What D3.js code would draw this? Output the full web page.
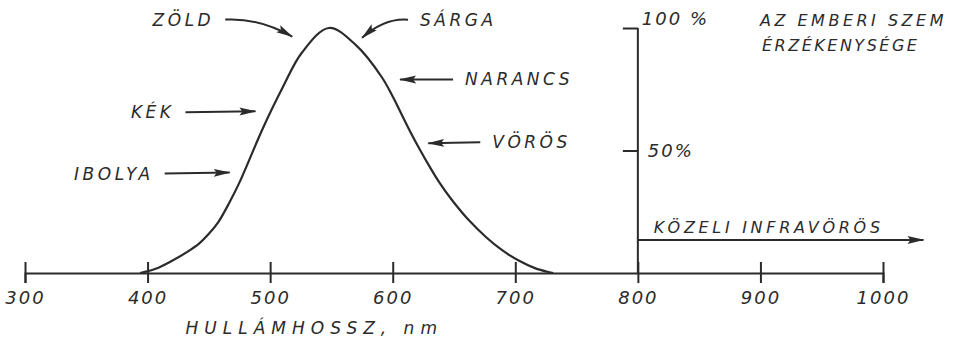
<!DOCTYPE html>
<html>
<head>
<meta charset="utf-8">
<script src="https://cdn.jsdelivr.net/npm/d3@7"></script>
<style>
  body { margin: 0; background: #fff; }
  svg { display: block; }
  text { font-family: "DejaVu Sans", sans-serif; font-style: italic; fill: #2b2b2b; }
  .lbl { font-size: 17px; letter-spacing: 3.5px; }
  .axis path, .axis line { stroke: #2b2b2b; stroke-width: 2; }
  .axis text { font-size: 18px; letter-spacing: 2px; }
</style>
</head>
<body>
<svg width="961" height="348"></svg>
<script>
// hullámhossz (nm) és relatív érzékenység (%)
var wavelengths = [394, 406, 420, 432, 442, 450, 458, 467, 475, 494, 510, 526, 548, 570, 591, 600, 607, 614, 622, 630, 638, 648, 662, 676, 689, 702, 716, 727, 731];
var sensitivity = [0, 1.6, 5, 8.5, 12, 16, 21, 29, 37, 59, 75.5, 90, 100, 93, 80, 72, 65, 58, 50.5, 43.5, 37, 30, 21.6, 14.7, 9.4, 5.3, 2, 0.4, 0];

var xTicks = [300, 400, 500, 600, 700, 800, 900, 1000];
var yTicks = [50, 100];
var yTickLabels = ["50%", "100 %"];

// színek és a nyilak hegye (nm, %)
var colorNames = ["ZÖLD", "SÁRGA", "NARANCS", "VÖRÖS", "KÉK", "IBOLYA"];
var colorTipNm = [518, 575, 606, 629, 488, 467];
var colorTipPct = [96.5, 96, 79, 53, 66, 41];

var xTitle = "HULLÁMHOSSZ, nm";
var title = ["AZ EMBERI SZEM", "ÉRZÉKENYSÉGE"];
var irLabel = "KÖZELI INFRAVÖRÖS";
var irFrom = 800, irTo = 1033, irLevel = 13.5;

var svg = d3.select("svg");

var x = d3.scaleLinear().domain([300, 1000]).range([25, 883]),
    y = d3.scaleLinear().domain([0, 100]).range([273, 28]);

var defs = svg.append("defs");
defs.append("marker")
    .attr("id", "head")
    .attr("markerUnits", "userSpaceOnUse")
    .attr("viewBox", "0 -5 17 10")
    .attr("refX", 16)
    .attr("refY", 0)
    .attr("markerWidth", 17)
    .attr("markerHeight", 10)
    .attr("orient", "auto")
  .append("path")
    .attr("d", "M0,-4L17,0L0,4L3,0Z")
    .attr("fill", "#2b2b2b");

// x tengely
var gx = svg.append("g")
    .attr("class", "axis axis-x")
    .attr("transform", "translate(0," + y(0) + ")")
    .call(d3.axisBottom(x).tickValues(xTicks).tickFormat(d3.format("d")).tickSizeOuter(0).tickSize(10));
gx.selectAll(".tick line").attr("y1", -11).attr("y2", 10);
gx.selectAll(".tick text").attr("y", 18);

svg.append("text")
    .attr("class", "lbl")
    .attr("x", x(536))
    .attr("y", 334)
    .attr("text-anchor", "middle")
    .style("letter-spacing", "6px")
    .text(xTitle);

// függőleges tengely (800 nm-nél)
var gy = svg.append("g")
    .attr("class", "axis axis-y")
    .attr("transform", "translate(" + x(800) + ",0)")
    .call(d3.axisLeft(y).tickValues(yTicks).tickSizeOuter(0).tickSize(15)
        .tickFormat(function(d, i) { return yTickLabels[i]; }));
gy.select(".domain").attr("d", "M0," + y(0) + "V" + y(100));
gy.selectAll(".tick text")
    .attr("text-anchor", "start")
    .attr("x", function(d) { return d === 100 ? 4 : 10; })
    .attr("dy", function(d) { return d === 100 ? "-0.2em" : "0.35em"; });

// érzékenységi görbe
var pts = wavelengths.map(function(w, i) { return [w, sensitivity[i]]; });
svg.append("path")
    .datum(pts)
    .attr("fill", "none")
    .attr("stroke", "#2b2b2b")
    .attr("stroke-width", 2.2)
    .attr("d", d3.line()
        .x(function(d) { return x(d[0]); })
        .y(function(d) { return y(d[1]); })
        .curve(d3.curveCatmullRom));

// közeli infravörös nyíl
svg.append("line")
    .attr("x1", x(irFrom)).attr("y1", y(irLevel))
    .attr("x2", x(irTo)).attr("y2", y(irLevel))
    .attr("stroke", "#2b2b2b")
    .attr("stroke-width", 2)
    .attr("marker-end", "url(#head)");
svg.append("text")
    .attr("class", "lbl")
    .attr("x", x(irFrom) + 16)
    .attr("y", y(irLevel) - 7)
    .style("font-size", "16px")
    .style("letter-spacing", "3.7px")
    .text(irLabel);

// cím
title.forEach(function(t, i) {
    svg.append("text")
        .attr("class", "lbl")
        .attr("x", 760 + i * 2)
        .attr("y", 26 + i * 25)
        .style("font-size", "16px")
        .style("letter-spacing", i ? "2.5px" : "3.5px")
        .text(t);
});

// színnevek nyilakkal: [farok dx, farok dy, ív, szöveg oldala]
var layout = [
    [-67, -17, -14, "end"],
    [46, -18, 12, "start"],
    [53, 0, 0, "start"],
    [52, -1, 0, "start"],
    [-70, 1, 0, "end"],
    [-65, 1, 0, "end"]
];

colorNames.forEach(function(name, i) {
    var tx = x(colorTipNm[i]), ty = y(colorTipPct[i]);
    var L = layout[i];
    var sx = tx + L[0], sy = ty + L[1];
    var mx = (sx + tx) / 2, my = (sy + ty) / 2 + L[2];
    svg.append("path")
        .attr("d", "M" + sx + "," + sy + "Q" + mx + "," + (L[2] ? Math.min(sy, ty) - 2 : my) + " " + tx + "," + ty)
        .attr("fill", "none")
        .attr("stroke", "#2b2b2b")
        .attr("stroke-width", 2)
        .attr("marker-end", "url(#head)");
    svg.append("text")
        .attr("class", "lbl")
        .attr("x", sx + (L[3] === "end" ? -11 : 12))
        .attr("y", sy + 6)
        .attr("text-anchor", L[3])
        .text(name);
});
</script>
</body>
</html>
